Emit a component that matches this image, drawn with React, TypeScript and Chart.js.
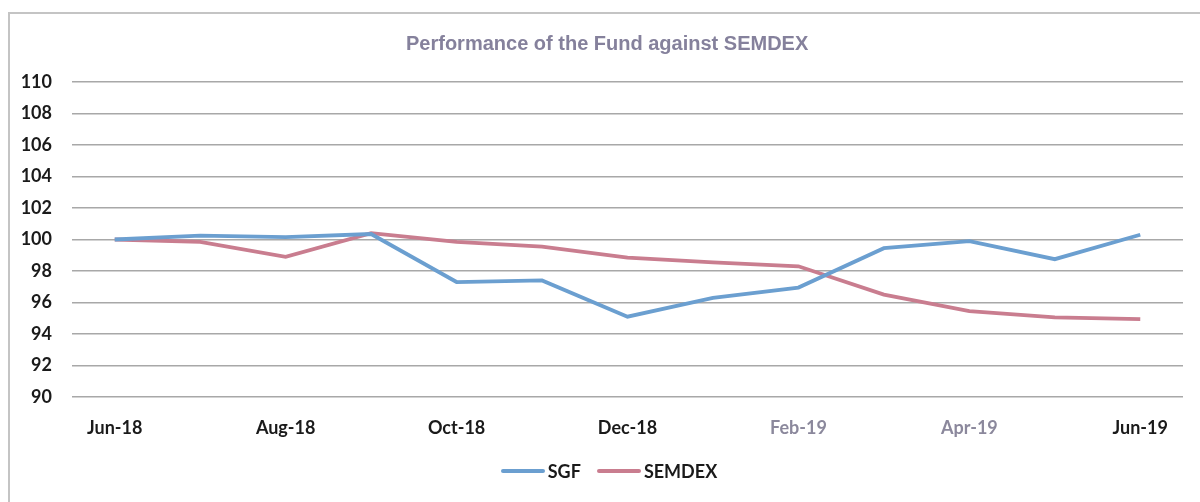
import React, { useEffect, useRef } from "react";
import { Chart, registerables } from "chart.js";

Chart.register(...registerables);

const months = ["Jun-18", "Jul-18", "Aug-18", "Sep-18", "Oct-18", "Nov-18", "Dec-18", "Jan-19", "Feb-19", "Mar-19", "Apr-19", "May-19", "Jun-19"];
const sgf = [100, 100.25, 100.15, 100.35, 97.3, 97.4, 95.1, 96.3, 96.95, 99.45, 99.9, 98.75, 100.3];
const semdex = [100, 99.85, 98.9, 100.4, 99.85, 99.55, 98.85, 98.55, 98.3, 96.5, 95.45, 95.05, 94.95];
const yTicks = [90, 92, 94, 96, 98, 100, 102, 104, 106, 108, 110];
const titleText = "Performance of the Fund against SEMDEX";
const seriesNames = ["SGF", "SEMDEX"];
const seriesColors = ["#6b9fd0", "#c97d8f"];

export default function App() {
  const ref = useRef<HTMLCanvasElement | null>(null);

  useEffect(() => {
    document.body.style.margin = "0";
    const ctx = ref.current!.getContext("2d")!;
    const chart = new Chart(ctx, {
      type: "line",
      data: {
        labels: months,
        datasets: [
          { label: seriesNames[0], data: sgf, borderColor: seriesColors[0], backgroundColor: seriesColors[0], borderWidth: 3.8, pointRadius: 0, tension: 0 },
          { label: seriesNames[1], data: semdex, borderColor: seriesColors[1], backgroundColor: seriesColors[1], borderWidth: 3.8, pointRadius: 0, tension: 0 },
        ],
      },
      options: {
        responsive: false,
        animation: false,
        layout: { padding: { left: 0, right: 17, top: 82, bottom: 65 } },
        plugins: {
          legend: { display: false },
          tooltip: { enabled: false },
          title: { display: false },
        },
        scales: {
          x: {
            type: "category",
            offset: true,
            grid: { display: false, drawTicks: false },
            border: { display: false },
            afterFit: (s: any) => { s.height = 40; },
            ticks: {
              autoSkip: false,
              maxRotation: 0,
              padding: 20,
              color: months.map((_, i) => (i === 8 || i === 10 ? "#8b889c" : "#1a1a1a")),
              font: { family: "Lato, 'Open Sans', sans-serif", size: 18, weight: "bold" },
              callback: (_v: any, i: number) => (i % 2 === 0 ? months[i] : ""),
            },
          },
          y: {
            min: 90,
            max: 110,
            afterFit: (s: any) => { s.width = 72; },
            afterBuildTicks: (s: any) => { s.ticks = yTicks.map((v) => ({ value: v })); },
            grid: { color: "#a8a8a8", lineWidth: 1.5, drawTicks: false },
            border: { display: false },
            ticks: {
              padding: 20,
              color: "#1a1a1a",
              font: { family: "Lato, 'Open Sans', sans-serif", size: 18, weight: "bold" },
            },
          },
        },
      },
    });
    return () => chart.destroy();
  }, []);

  const legendFont = "Lato, 'Open Sans', sans-serif";
  return (
    <div style={{ position: "absolute", left: 0, top: 0, width: 1200, height: 502, background: "#fff", overflow: "hidden" }}>
      <div style={{ position: "absolute", left: 8, top: 12, width: 1200, height: 520, borderLeft: "2px solid #c4c4c4", borderTop: "2px solid #c4c4c4" }} />
      <canvas ref={ref} width={1200} height={502} style={{ position: "absolute", left: 0, top: 0 }} />
      <div style={{ position: "absolute", left: 406, top: 31, width: 400, height: 24, lineHeight: "24px", textAlign: "center", fontFamily: "'Liberation Sans', Arial, sans-serif", fontWeight: 700, fontSize: 20, color: "#85819c", whiteSpace: "nowrap" }}>
        {titleText}
      </div>
      <div style={{ position: "absolute", left: 9, top: 460, width: 1200, display: "flex", justifyContent: "center", alignItems: "center", fontFamily: legendFont, fontWeight: 700, fontSize: 18, color: "#1a1a1a" }}>
        {seriesNames.map((n, i) => (
          <div key={n} style={{ display: "flex", alignItems: "center", marginRight: i === 0 ? 16 : 0 }}>
            <span style={{ display: "inline-block", width: 44, height: 4, borderRadius: 2, background: seriesColors[i], marginRight: 3 }} />
            <span>{n}</span>
          </div>
        ))}
      </div>
    </div>
  );
}
